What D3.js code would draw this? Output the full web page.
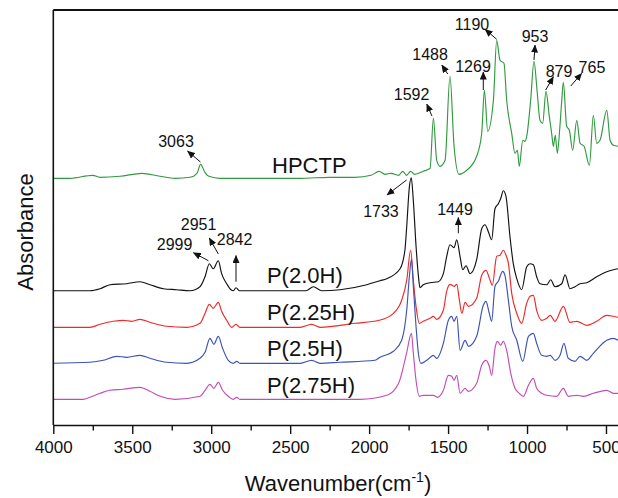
<!DOCTYPE html>
<html>
<head>
<meta charset="utf-8">
<script src="https://cdn.jsdelivr.net/npm/d3@7"></script>
<style>
body { margin: 0; background: #fff; }
text { font-family: "Liberation Sans", Arial, sans-serif; fill: #111; }
</style>
</head>
<body>
<script>
// spectra: wavenumber (cm-1) and absorbance above each curve's own baseline
var seriesNames = ["HPCTP", "P(2.0H)", "P(2.25H)", "P(2.5H)", "P(2.75H)"];
var seriesOffsets = [2.467, 1.343, 0.977, 0.617, 0.257];

var hpctpWn = [4000, 3894, 3750, 3704, 3578, 3438, 3324, 3229, 3134, 3090, 3067, 3040, 3014, 2944, 2437, 2247, 2089, 1988, 1937, 1899,
    1861, 1813, 1787, 1763, 1737, 1712, 1657, 1614, 1593, 1572, 1551, 1519, 1488, 1462, 1431, 1382, 1319, 1287, 1270, 1249,
    1213, 1192, 1171, 1146, 1129, 1097, 1076, 1061, 1049, 1027, 1013, 1002, 977, 956, 935, 918, 901, 880, 859, 844,
    833, 821, 808, 795, 780, 770, 749, 732, 711, 685, 664, 639, 605, 580, 559, 538, 495, 474, 453, 424];
var hpctpAbs = [0.00, 0.00, 0.03, 0.01, 0.02, 0.05, 0.02, 0.00, 0.01, 0.05, 0.14, 0.06, 0.02, 0.00, 0.00, 0.01, 0.01, 0.03, 0.07, 0.04,
    0.05, 0.03, 0.07, 0.03, 0.07, 0.04, 0.07, 0.10, 0.60, 0.18, 0.12, 0.18, 1.02, 0.32, 0.04, 0.08, 0.22, 0.45, 0.88, 0.47,
    0.78, 1.38, 1.18, 1.15, 0.78, 0.45, 0.25, 0.28, 0.12, 0.38, 0.37, 0.42, 0.78, 1.17, 0.85, 0.58, 0.55, 0.87, 0.62, 0.45,
    0.32, 0.43, 0.25, 0.45, 0.78, 0.96, 0.52, 0.48, 0.28, 0.58, 0.35, 0.32, 0.13, 0.63, 0.35, 0.38, 0.68, 0.38, 0.33, 0.32];

var p20Wn = [4000, 3768, 3704, 3641, 3535, 3451, 3388, 3303, 3219, 3134, 3071, 3039, 3012, 2987, 2955, 2934, 2902, 2875, 2860, 2843,
    2822, 2600, 2400, 2353, 2300, 2184, 2015, 1931, 1889, 1804, 1773, 1762, 1745, 1733, 1720, 1703, 1688, 1678, 1657, 1614,
    1562, 1530, 1509, 1488, 1462, 1445, 1424, 1407, 1386, 1361, 1319, 1287, 1266, 1245, 1224, 1203, 1182, 1167, 1150, 1133,
    1108, 1087, 1065, 1034, 1002, 981, 960, 939, 918, 875, 850, 823, 780, 759, 728, 696, 664, 622, 559, 495, 453, 424];
var p20Abs = [0, 0, 0.02, 0.06, 0.07, 0.09, 0.06, 0.02, 0.01, 0, 0.04, 0.14, 0.27, 0.22, 0.30, 0.17, 0.07, 0.01, 0, 0.03,
    0, 0, 0, 0.04, 0, 0.01, 0.06, 0.10, 0.12, 0.22, 0.41, 0.64, 1.04, 1.13, 0.90, 0.45, 0.15, 0.03, 0.06, 0.08,
    0.09, 0.17, 0.34, 0.46, 0.43, 0.51, 0.34, 0.21, 0.25, 0.17, 0.31, 0.62, 0.66, 0.59, 0.51, 0.82, 0.87, 0.92, 1.00, 0.94,
    0.54, 0.27, 0.12, 0.01, 0.24, 0.27, 0.26, 0.14, 0.07, 0.06, 0.11, 0.04, 0.07, 0.16, 0.02, 0.04, 0.07, 0.08, 0.14, 0.19, 0.21, 0.22];

var p225Wn = [4000, 3768, 3704, 3620, 3557, 3502, 3451, 3388, 3282, 3155, 3071, 3039, 3012, 2987, 2955, 2934, 2902, 2870, 2843, 2818,
    2437, 2364, 2311, 2089, 1937, 1846, 1794, 1762, 1737, 1720, 1703, 1682, 1657, 1614, 1593, 1572, 1530, 1509, 1488, 1462,
    1445, 1428, 1413, 1392, 1371, 1319, 1287, 1260, 1234, 1220, 1192, 1171, 1150, 1133, 1118, 1097, 1065, 1034, 1002, 981,
    960, 939, 907, 875, 853, 823, 770, 728, 685, 622, 559, 495, 453, 424];
var p225Abs = [0, 0, 0.03, 0.06, 0.07, 0.06, 0.08, 0.05, 0.01, 0, 0.04, 0.14, 0.23, 0.19, 0.25, 0.16, 0.07, 0, 0.03, 0,
    0, 0.03, 0, 0.04, 0.07, 0.14, 0.27, 0.47, 0.77, 0.47, 0.21, 0.04, 0.06, 0.09, 0.11, 0.08, 0.17, 0.36, 0.43, 0.41,
    0.43, 0.27, 0.14, 0.25, 0.21, 0.29, 0.52, 0.57, 0.47, 0.42, 0.71, 0.72, 0.77, 0.72, 0.64, 0.34, 0.14, 0.04, 0.24, 0.31,
    0.32, 0.17, 0.07, 0.09, 0.12, 0.06, 0.21, 0.05, 0.06, 0.02, 0.06, 0.12, 0.11, 0.10];

var p25Wn = [4000, 3768, 3683, 3598, 3535, 3451, 3388, 3282, 3155, 3071, 3039, 3008, 2983, 2955, 2928, 2892, 2860, 2838, 2818, 2437,
    2364, 2311, 2187, 1963, 1931, 1846, 1794, 1762, 1745, 1732, 1720, 1703, 1688, 1673, 1635, 1593, 1572, 1530, 1498, 1477,
    1462, 1445, 1424, 1392, 1371, 1319, 1277, 1260, 1239, 1224, 1203, 1182, 1154, 1140, 1118, 1097, 1065, 1027, 991, 960,
    939, 907, 875, 853, 823, 791, 766, 739, 696, 664, 622, 580, 495, 453, 424];
var p25Abs = [0, 0.01, 0.03, 0.07, 0.06, 0.08, 0.05, 0.01, 0, 0.05, 0.11, 0.25, 0.19, 0.27, 0.15, 0.03, 0, 0.02, 0, 0,
    0.03, 0, 0.01, 0.03, 0.06, 0.12, 0.23, 0.53, 0.87, 1.04, 0.77, 0.37, 0.10, 0.0, 0.03, 0.08, 0.05, 0.20, 0.43, 0.47,
    0.42, 0.47, 0.13, 0.23, 0.17, 0.27, 0.58, 0.62, 0.50, 0.42, 0.77, 0.82, 0.92, 0.88, 0.63, 0.37, 0.23, 0.02, 0.27, 0.30,
    0.20, 0.08, 0.07, 0.08, 0.03, 0.08, 0.20, 0.05, 0.02, 0.07, 0.03, 0.10, 0.23, 0.25, 0.23];

var p275Wn = [4000, 3810, 3768, 3704, 3641, 3557, 3451, 3388, 3324, 3229, 3071, 3039, 3008, 2983, 2955, 2928, 2892, 2860, 2838, 2818,
    2437, 2057, 1887, 1813, 1763, 1732, 1720, 1703, 1682, 1657, 1593, 1567, 1530, 1498, 1477, 1462, 1445, 1424, 1392, 1371,
    1319, 1287, 1260, 1239, 1224, 1203, 1188, 1167, 1150, 1129, 1103, 1076, 1049, 1023, 991, 960, 939, 907, 875, 812,
    770, 739, 685, 643, 580, 495, 453, 424];
var p275Abs = [0, 0, 0.02, 0.06, 0.09, 0.10, 0.12, 0.08, 0.03, 0, 0.03, 0.09, 0.15, 0.11, 0.17, 0.09, 0.03, 0, 0.02, 0,
    0, 0, 0.04, 0.16, 0.46, 0.66, 0.46, 0.19, 0.03, 0.04, 0.04, 0.02, 0.09, 0.24, 0.23, 0.19, 0.24, 0.06, 0.11, 0.08,
    0.16, 0.34, 0.39, 0.33, 0.24, 0.51, 0.58, 0.54, 0.58, 0.49, 0.26, 0.11, 0.06, 0.03, 0.14, 0.21, 0.11, 0.06, 0.04, 0.03,
    0.11, 0.03, 0.04, 0.03, 0.06, 0.09, 0.06, 0.06];

var seriesWn = [hpctpWn, p20Wn, p225Wn, p25Wn, p275Wn];
var seriesAbs = [hpctpAbs, p20Abs, p225Abs, p25Abs, p275Abs];
var seriesColors = ["#2f9a3f", "#111111", "#f02828", "#3c52b4", "#c04eb4"];

var majorTicks = [4000, 3500, 3000, 2500, 2000, 1500, 1000, 500];
var minorTicks = [3750, 3250, 2750, 2250, 1750, 1250, 750];

// peak labels: text, label centre [wn, y], arrow tail [wn, y], arrow head [wn, y]  (y in stacked units)
var peakLabels = ["3063", "1592", "1488", "1269", "1190", "953", "879", "765", "1733", "1449", "2999", "2951", "2842"];
var peakLabelAt = [[3223, 2.84], [1731, 3.31], [1614, 3.71], [1342, 3.585], [1348, 4.01], [949, 3.89], [797, 3.54], [589, 3.575],
    [1925, 2.14], [1456, 2.16], [3232, 1.81], [3080, 2.01], [2852, 1.86]];
var peakTail = [[3068, 2.63], [1602, 3.09], [1502, 3.51], [1277, 3.35], [1192, 3.857], [956, 3.65], [882, 3.35], [723, 3.39],
    [1763, 2.45], [1435, 1.917], [3018, 1.643], [2955, 1.71], [2843, 1.433]];
var peakHead = [[3150, 2.74], [1635, 3.21], [1540, 3.60], [1277, 3.53], [1266, 3.957], [949, 3.80], [833, 3.483], [654, 3.517],
    [1887, 2.30], [1435, 2.075], [3113, 1.723], [3012, 1.87], [2843, 1.695]];

// where the curve names sit: [wn of left edge, y of baseline]
var nameAt = [[2615, 2.52], [2647, 1.42], [2647, 1.05], [2647, 0.69], [2647, 0.32]];

var width = 618, height = 498;
var plotLeft = 53.3, plotTop = 10, plotBottom = 425;

var svg = d3.select("body").append("svg")
    .attr("width", width)
    .attr("height", height);

var x = d3.scaleLinear().domain([4000, 400]).range([plotLeft, plotLeft + 3600 * 0.15791]);
var y = d3.scaleLinear().domain([0, 4.15]).range([plotBottom, plotTop]);

svg.append("defs").append("clipPath")
    .attr("id", "plotclip")
    .append("rect")
    .attr("x", plotLeft)
    .attr("y", plotTop)
    .attr("width", width - plotLeft)
    .attr("height", plotBottom - plotTop);

svg.select("defs").append("marker")
    .attr("id", "arrowhead")
    .attr("markerUnits", "userSpaceOnUse")
    .attr("markerWidth", 8)
    .attr("markerHeight", 7)
    .attr("refX", 7.5)
    .attr("refY", 3.5)
    .attr("orient", "auto")
    .append("path")
    .attr("d", "M 0 0 L 8 3.5 L 0 7 z")
    .attr("fill", "#111");

var line = d3.line()
    .x(function(d) { return x(d[0]); })
    .y(function(d) { return y(d[1]); })
    .curve(d3.curveMonotoneX);

var curves = svg.append("g").attr("clip-path", "url(#plotclip)");

seriesNames.forEach(function(name, i) {
    var pts = seriesWn[i].map(function(w, j) { return [w, seriesAbs[i][j] + seriesOffsets[i]]; });
    curves.append("path")
        .datum(pts)
        .attr("fill", "none")
        .attr("stroke", seriesColors[i])
        .attr("stroke-width", 1.15)
        .attr("stroke-linejoin", "round")
        .attr("d", line);
});

// curve names
svg.selectAll(".name")
    .data(seriesNames).enter()
    .append("text")
    .attr("class", "name")
    .attr("x", function(d, i) { return x(nameAt[i][0]); })
    .attr("y", function(d, i) { return y(nameAt[i][1]); })
    .attr("font-size", 22)
    .text(function(d) { return d; });

// peak arrows and numbers
var peaks = svg.selectAll(".peak")
    .data(peakLabels).enter()
    .append("g")
    .attr("class", "peak");

peaks.append("line")
    .attr("x1", function(d, i) { return x(peakTail[i][0]); })
    .attr("y1", function(d, i) { return y(peakTail[i][1]); })
    .attr("x2", function(d, i) { return x(peakHead[i][0]); })
    .attr("y2", function(d, i) { return y(peakHead[i][1]); })
    .attr("stroke", "#111")
    .attr("stroke-width", 1)
    .attr("marker-end", "url(#arrowhead)");

peaks.append("text")
    .attr("x", function(d, i) { return x(peakLabelAt[i][0]); })
    .attr("y", function(d, i) { return y(peakLabelAt[i][1]); })
    .attr("dy", "0.36em")
    .attr("text-anchor", "middle")
    .attr("font-size", 16)
    .text(function(d) { return d; });

// frame: left and top lines, no ticks
svg.append("line")
    .attr("x1", plotLeft).attr("y1", plotTop)
    .attr("x2", plotLeft).attr("y2", plotBottom)
    .attr("stroke", "#111").attr("stroke-width", 1.6);
svg.append("line")
    .attr("x1", plotLeft).attr("y1", plotTop)
    .attr("x2", width).attr("y2", plotTop)
    .attr("stroke", "#111").attr("stroke-width", 1.8);

// bottom axis
var xAxis = svg.append("g")
    .attr("transform", "translate(0," + plotBottom + ")")
    .call(d3.axisBottom(x).tickValues(majorTicks).tickSizeInner(9).tickSizeOuter(0).tickPadding(7).tickFormat(d3.format("d")));
xAxis.select(".domain").attr("stroke", "#111").attr("stroke-width", 1.6);
xAxis.selectAll(".tick line").attr("stroke", "#111").attr("stroke-width", 1.4);
xAxis.selectAll(".tick text")
    .attr("font-size", 17)
    .attr("font-family", "'Liberation Sans', Arial, sans-serif")
    .attr("fill", "#111");

var minorAxis = svg.append("g")
    .attr("transform", "translate(0," + plotBottom + ")")
    .call(d3.axisBottom(x).tickValues(minorTicks).tickSizeInner(5.5).tickSizeOuter(0).tickFormat(""));
minorAxis.select(".domain").remove();
minorAxis.selectAll(".tick line").attr("stroke", "#111").attr("stroke-width", 1.4);

// axis titles
svg.append("text")
    .attr("transform", "translate(33," + 232 + ") rotate(-90)")
    .attr("text-anchor", "middle")
    .attr("font-size", 22)
    .text("Absorbance");

var xt = svg.append("text")
    .attr("x", 338)
    .attr("y", 491)
    .attr("text-anchor", "middle")
    .attr("font-size", 22);
xt.append("tspan").text("Wavenumber(cm");
xt.append("tspan").attr("font-size", 14).attr("dy", -9).text("-1");
xt.append("tspan").attr("dy", 9).text(")");
</script>
</body>
</html>
